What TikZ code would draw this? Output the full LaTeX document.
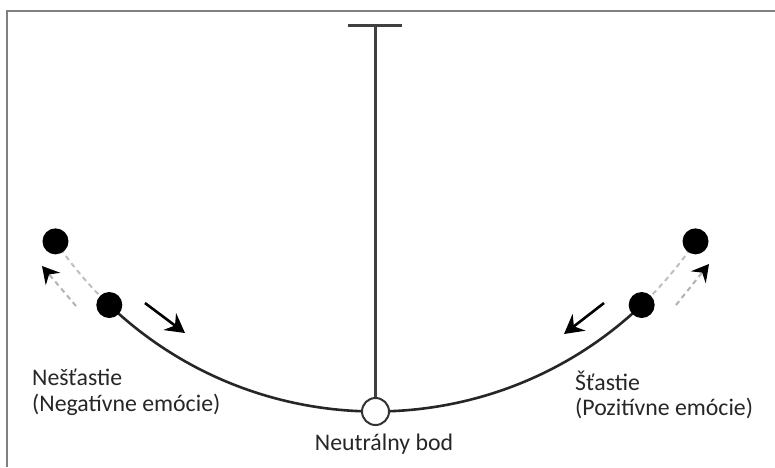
\documentclass[tikz,border=0pt]{standalone}
\usepackage{fontspec}
\setmainfont{Carlito}
\usetikzlibrary{arrows.meta,calc}
\begin{document}
\begin{tikzpicture}[x=1pt,y=-1pt,
  frameline/.style={draw=black!50,line width=2pt},
  rodline/.style={draw=black!75,line width=2.2pt},
  pathline/.style={draw=black!85,line width=2.6pt},
  ghostline/.style={draw=black!25,line width=2pt,dash pattern=on 5pt off 4pt},
  ball/.style={circle,fill=black,minimum size=26pt,inner sep=0pt},
  restball/.style={circle,draw=black!80,fill=white,line width=2pt,minimum size=27pt,inner sep=0pt},
  movearrow/.style={draw=black,line width=2.6pt,-{Stealth[length=19pt,width=21pt,inset=6.5pt]}},
  ghostarrow/.style={draw=black!30,line width=2pt,dash pattern=on 5pt off 4pt,
     -{Stealth[length=17pt,width=19pt,inset=6pt,black]}},
  lbl/.style={font=\fontsize{23.8}{28}\selectfont,text=black!85,inner sep=0pt,anchor=base west},
]
\useasboundingbox (0,0) rectangle (775,467);
% frame
\coordinate (fTR) at (775,10.5);
\coordinate (fTL) at (6.5,10.5);
\coordinate (fBL) at (6.5,467);
\draw[frameline] (fTR) -- (fTL) -- (fBL);
% pivot and bar
\coordinate (pivot) at (375.5,25.5);
\coordinate (barL) at (348,25.5);
\coordinate (barR) at (402,25.5);
\draw[rodline] (barL) -- (barR);
% arcs
\draw[ghostline] ($(pivot)+(146:386)$) arc[start angle=146,end angle=133.6,radius=386];
\draw[ghostline] ($(pivot)+(34:386)$) arc[start angle=34,end angle=46.4,radius=386];
\draw[pathline] ($(pivot)+(133.6:386)$) arc[start angle=133.6,end angle=46.4,radius=386];
% nodes
\node[restball] (mid) at ($(pivot)+(90:386)$) {};
\draw[rodline] (pivot) -- (mid.north);
\node[ball] (lo) at ($(pivot)+(146:386)$) {};
\node[ball] (li) at ($(pivot)+(133.6:386)$) {};
\node[ball] (ro) at ($(pivot)+(34:386)$) {};
\node[ball] (ri) at ($(pivot)+(46.4:386)$) {};
% arrows
\coordinate (la1) at (145,303); \coordinate (la2) at (185,333);
\draw[movearrow] (la1) -- (la2);
\coordinate (ra1) at (604,303); \coordinate (ra2) at (564,334);
\draw[movearrow] (ra1) -- (ra2);
\coordinate (lg1) at (76,306); \coordinate (lg2) at (42,266);
\draw[ghostarrow] (lg1) -- (lg2);
\coordinate (rg1) at (676,305); \coordinate (rg2) at (709,264);
\draw[ghostarrow] (rg1) -- (rg2);
% labels
\node[lbl] (neg1) at (32,385) {Nešťastie};
\node[lbl] (neg2) at (32,411) {(Negatívne emócie)};
\node[lbl] (pos1) at (575,390) {Šťastie};
\node[lbl] (pos2) at (575,415) {(Pozitívne emócie)};
\node[lbl,anchor=base] (neu) at (384,450) {Neutrálny bod};
\end{tikzpicture}
\end{document}
